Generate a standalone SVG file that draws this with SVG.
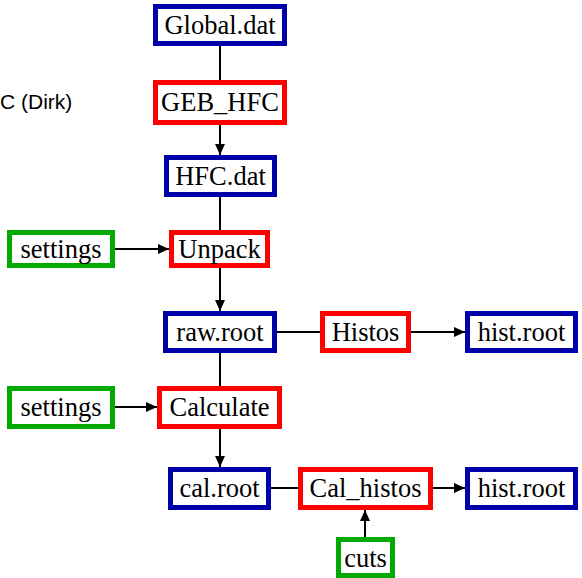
<svg xmlns="http://www.w3.org/2000/svg" width="582" height="578" viewBox="0 0 582 578">
<defs>
<marker id="ah" markerUnits="userSpaceOnUse" markerWidth="11" markerHeight="10" refX="11" refY="5" orient="auto">
<path d="M0,0 L11,5 L0,10 Z" fill="#000"/>
</marker>
<style>
.b{fill:#fff;stroke-width:5}
.blue{stroke:#0000aa}
.red{stroke:#ff0000}
.green{stroke:#00aa00}
.t{font-family:"Liberation Serif","Times New Roman",serif;font-size:26.5px;fill:#000;text-anchor:middle}
.c line{stroke:#000;stroke-width:2}
.arr{marker-end:url(#ah)}
.s{font-family:"Liberation Sans",Arial,sans-serif;font-size:21px;fill:#000}
</style>
</defs>
<rect width="582" height="578" fill="#fff"/>
<text class="s" x="0" y="109">C (Dirk)</text>
<g class="c" id="connectors">
<line x1="220" y1="46" x2="220" y2="80"/>
<line class="arr" x1="220" y1="125" x2="220" y2="155"/>
<line x1="220" y1="197" x2="220" y2="230"/>
<line class="arr" x1="220" y1="268" x2="220" y2="311"/>
<line x1="220" y1="353" x2="220" y2="386"/>
<line class="arr" x1="220" y1="429" x2="220" y2="467"/>
<line class="arr" x1="115" y1="249" x2="169" y2="249"/>
<line class="arr" x1="115" y1="407" x2="157" y2="407"/>
<line x1="277" y1="332" x2="320" y2="332"/>
<line class="arr" x1="411" y1="332" x2="465" y2="332"/>
<line x1="271" y1="488" x2="298" y2="488"/>
<line class="arr" x1="433" y1="488" x2="465" y2="488"/>
<line class="arr" x1="365" y1="537" x2="365" y2="510"/>
</g>
<g id="global"><rect class="b blue" x="155.5" y="6.5" width="129" height="37"/><text class="t" x="220" y="34">Global.dat</text></g>
<g id="geb"><rect class="b red" x="155.5" y="82.5" width="129" height="40"/><text class="t" x="220" y="111">GEB_HFC</text></g>
<g id="hfc"><rect class="b blue" x="166.5" y="157.5" width="108" height="37"/><text class="t" x="220.5" y="185">HFC.dat</text></g>
<g id="settings1"><rect class="b green" x="9.5" y="232.5" width="103" height="33"/><text class="t" x="61" y="258">settings</text></g>
<g id="unpack"><rect class="b red" x="171.5" y="232.5" width="96" height="33"/><text class="t" x="219.5" y="258">Unpack</text></g>
<g id="raw"><rect class="b blue" x="165.5" y="313.5" width="109" height="37"/><text class="t" x="220" y="341">raw.root</text></g>
<g id="histos"><rect class="b red" x="322.5" y="313.5" width="86" height="37"/><text class="t" x="365.5" y="341">Histos</text></g>
<g id="hist1"><rect class="b blue" x="467.5" y="313.5" width="108" height="37"/><text class="t" x="521.5" y="341">hist.root</text></g>
<g id="settings2"><rect class="b green" x="9.5" y="388.5" width="103" height="38"/><text class="t" x="61" y="416">settings</text></g>
<g id="calculate"><rect class="b red" x="159.5" y="388.5" width="120" height="38"/><text class="t" x="219.5" y="416">Calculate</text></g>
<g id="cal"><rect class="b blue" x="170.5" y="469.5" width="98" height="38"/><text class="t" x="219.5" y="497">cal.root</text></g>
<g id="calhistos"><rect class="b red" x="300.5" y="469.5" width="130" height="38"/><text class="t" x="365.5" y="497">Cal_histos</text></g>
<g id="hist2"><rect class="b blue" x="467.5" y="469.5" width="108" height="38"/><text class="t" x="521.5" y="497">hist.root</text></g>
<g id="cuts"><rect class="b green" x="338.5" y="539.5" width="54" height="36"/><text class="t" x="365.5" y="567">cuts</text></g>
</svg>
